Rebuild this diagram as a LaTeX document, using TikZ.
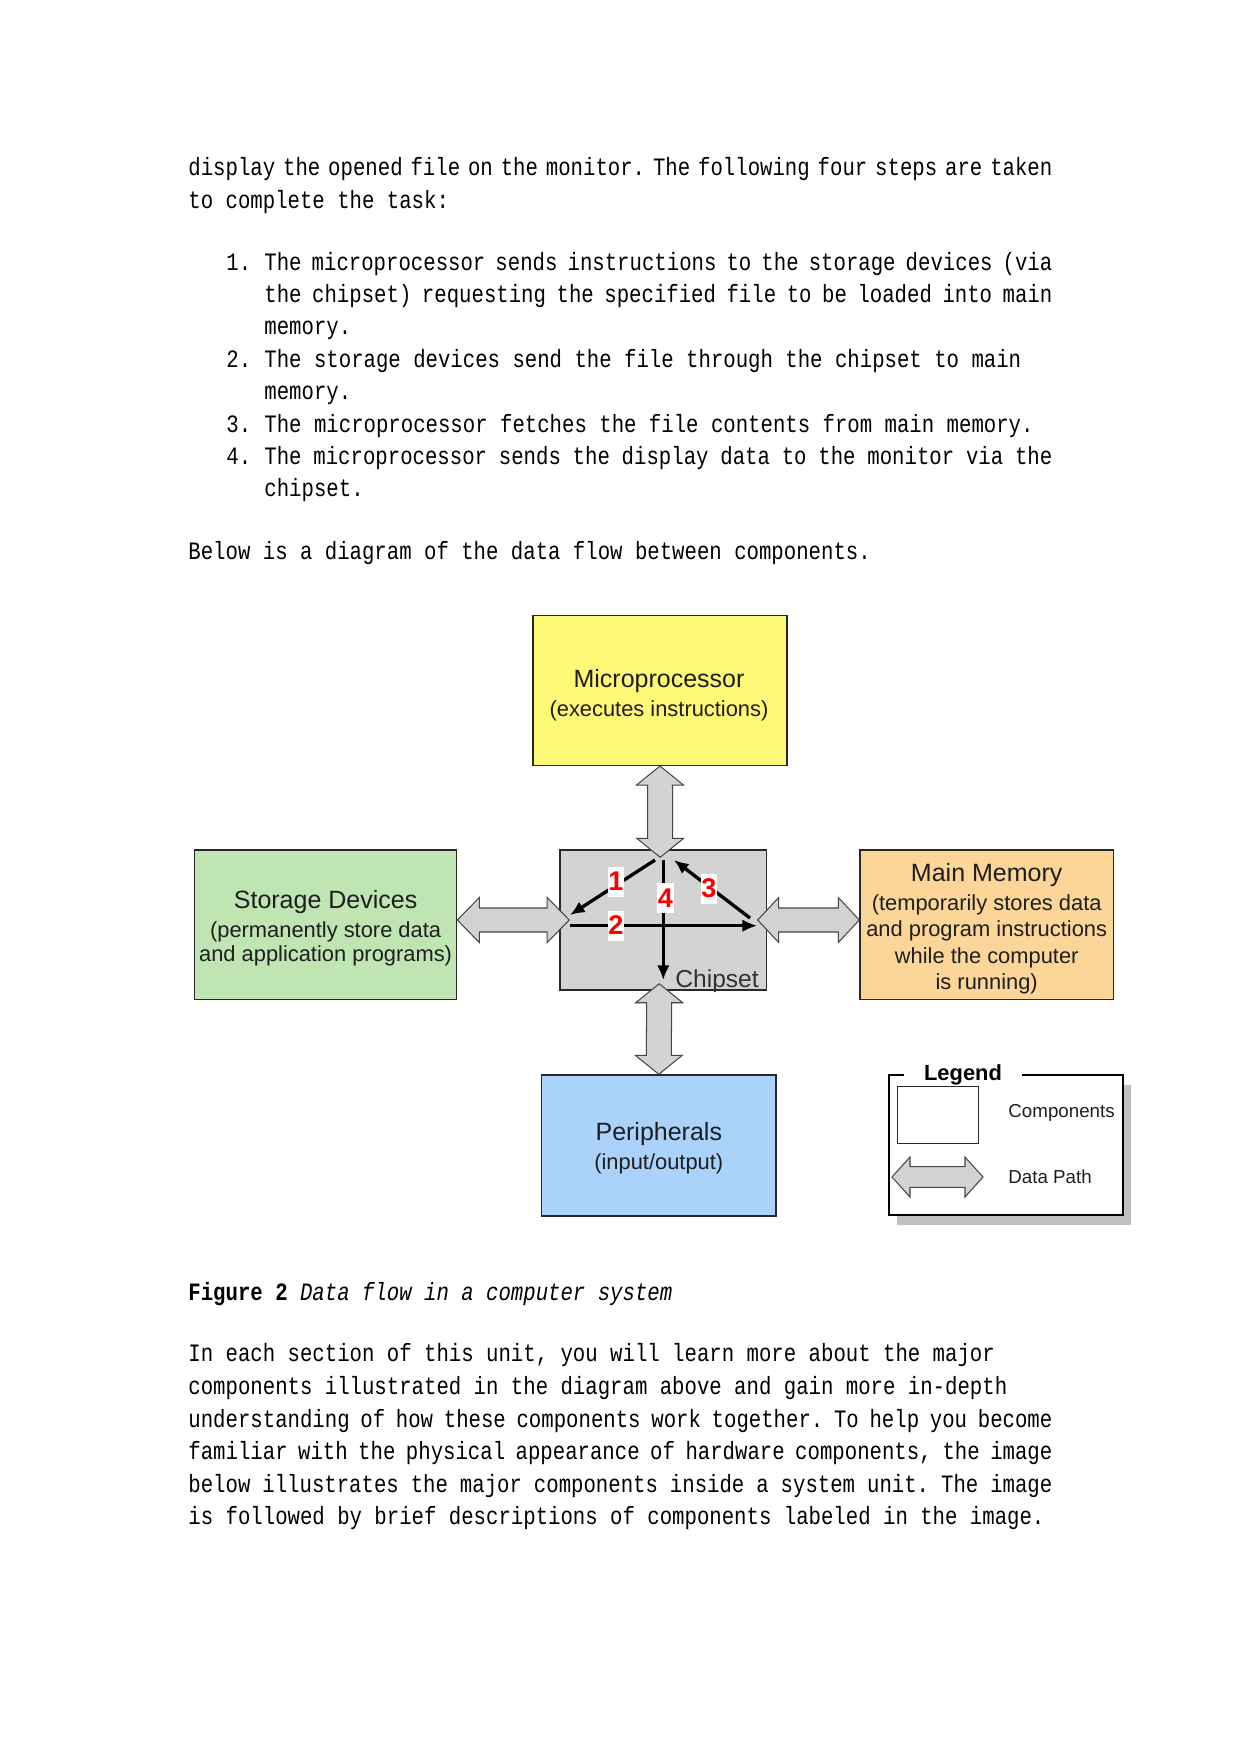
\documentclass[tikz,border=0pt]{standalone}
\usepackage{fontspec}
\usetikzlibrary{calc,arrows.meta,shadows}
\newfontfamily\bodyfont{Liberation Mono}[FakeStretch=0.827]
\newfontfamily\diagfont{Liberation Sans}
\newdimen\pxu \pxu=0.48pt
\definecolor{mpfill}{RGB}{255,249,120}
\definecolor{sdfill}{RGB}{190,229,178}
\definecolor{mmfill}{RGB}{252,214,153}
\definecolor{ppfill}{RGB}{170,210,250}
\definecolor{arrowgray}{RGB}{211,211,211}
\definecolor{arrowline}{RGB}{70,70,70}
\definecolor{boxline}{RGB}{40,40,40}
\definecolor{boxtext}{RGB}{30,30,30}
\definecolor{chiptext}{RGB}{50,50,50}
\definecolor{shadowgray}{RGB}{192,192,192}
\newcommand\jline[2]{\hbox to #1\pxu{\spaceskip=5.95pt plus 1fil minus 5pt\xspaceskip=\spaceskip #2}}
\newcommand\ttl[1]{{\fontsize{12}{13}\selectfont #1}}
% horizontal double block arrow: left tip, right tip, head length, head half width, shaft half width
\newcommand\hblock[5]{%
  \draw[blockarrow] (#1) -- ++(#3,-#4) -- ++(0,#4-#5) -- ($(#2)+(-#3,-#5)$) -- ++(0,#5-#4) -- (#2)
    -- ++(-#3,#4) -- ++(0,#5-#4) -- ($(#1)+(#3,#5)$) -- ++(0,#4-#5) -- cycle;}
% vertical double block arrow: top tip, bottom tip, head length, head half width, shaft half width
\newcommand\vblock[5]{%
  \draw[blockarrow] (#1) -- ++(#4,#3) -- ++(#5-#4,0) -- ($(#2)+(#5,-#3)$) -- ++(#4-#5,0) -- (#2)
    -- ++(-#4,-#3) -- ++(#4-#5,0) -- ($(#1)+(-#5,#3)$) -- ++(#5-#4,0) -- cycle;}
\begin{document}
\begin{tikzpicture}[x=0.48pt, y=-0.48pt,
  box/.style={draw=boxline, line width=0.7pt, inner sep=0pt},
  boxlabel/.style={align=center, text=boxtext, inner sep=0pt},
  blockarrow/.style={fill=arrowgray, draw=arrowline, line width=0.5pt, line join=miter},
  flow/.style={line width=1.6pt, -{Latex[length=7pt,width=6pt]}},
  num/.style={fill=white, text=red, font=\diagfont\bfseries\fontsize{13}{13}\selectfont,
    inner xsep=0.3pt, inner ysep=0pt, minimum height=30\pxu},
  body/.style={font=\bodyfont\fontsize{12}{14}\selectfont, inner sep=0pt, anchor=base west},
  small/.style={font=\diagfont\fontsize{9}{10}\selectfont, inner sep=0pt, anchor=base west, text=boxtext}
]
\useasboundingbox (0,0) rectangle (1241,1754);
\fill[white] (0,0) rectangle (1241,1754);

% ---------- body text above ----------
\node[body] (p1) at (188,175) {\jline{864}{display the opened file on the monitor. The following four steps are taken}};
\node[body] (p2) at (188,208.5) {to complete the task:};
\node[body] (n1) at (226,270) {1.};
\node[body] (i1a) at (264,270) {\jline{788}{The microprocessor sends instructions to the storage devices (via}};
\node[body] (i1b) at (264,302.4) {\jline{788}{the chipset) requesting the specified file to be loaded into main}};
\node[body] (i1c) at (264,334.8) {memory.};
\node[body] (n2) at (226,367.2) {2.};
\node[body] (i2a) at (264,367.2) {The storage devices send the file through the chipset to main};
\node[body] (i2b) at (264,399.6) {memory.};
\node[body] (n3) at (226,432) {3.};
\node[body] (i3a) at (264,432) {The microprocessor fetches the file contents from main memory.};
\node[body] (n4) at (226,464.4) {4.};
\node[body] (i4a) at (264,464.4) {\jline{788}{The microprocessor sends the display data to the monitor via the}};
\node[body] (i4b) at (264,496.8) {chipset.};
\node[body] (p3) at (188,559.5) {Below is a diagram of the data flow between components.};

% ---------- diagram boxes ----------
\node[box, fill=mpfill, minimum width=254\pxu, minimum height=150\pxu] (mp) at (660,690.3) {};
\node[box, fill=arrowgray, minimum width=206.5\pxu, minimum height=140\pxu] (cs) at (663.2,920) {};
\node[box, fill=sdfill, minimum width=262\pxu, minimum height=149.3\pxu] (sd) at (325.6,924.7) {};
\node[box, fill=mmfill, minimum width=253.4\pxu, minimum height=149.3\pxu] (mm) at (986.7,924.7) {};
\node[box, fill=ppfill, minimum width=234.3\pxu, minimum height=141\pxu] (pp) at (658.8,1145.5) {};

\node[boxlabel, font=\diagfont\fontsize{10.5}{12}\selectfont] (mpt) at ($(mp.center)+(-1,4.5)$)
  {\ttl{Microprocessor}\\[1.9pt](executes instructions)};
\node[boxlabel, font=\diagfont\fontsize{10.5}{11.8}\selectfont] (sdt) at ($(sd.center)+(0,3.6)$)
  {\ttl{Storage Devices}\\[2.1pt](permanently store data\\and application programs)};
\node[boxlabel, font=\diagfont\fontsize{10.5}{12.7}\selectfont] (mmt) at ($(mm.center)+(0,4)$)
  {\ttl{Main Memory}\\[1.2pt](temporarily stores data\\and program instructions\\while the computer\\is running)};
\node[boxlabel, font=\diagfont\fontsize{10.5}{12}\selectfont] (ppt) at ($(pp.center)+(0,3)$)
  {\ttl{Peripherals}\\[1.9pt](input/output)};

% ---------- block arrows (data paths) ----------
\coordinate (vt1) at (mp.south);
\coordinate (vt2) at ($(cs.north)+(-3,8)$);
\coordinate (vb1) at ($(cs.south)+(-4,-7)$);
\coordinate (vb2) at (pp.north);
\coordinate (hl1) at ($(sd.east)+(0,-4.7)$);
\coordinate (hl2) at ($(cs.west)+(10,0)$);
\coordinate (hr1) at ($(cs.east)+(-9.5,0)$);
\coordinate (hr2) at ($(mm.west)+(0,-4.7)$);
\vblock{vt1}{vt2}{19}{23.5}{12.5}
\vblock{vb1}{vb2}{19}{23.5}{12.5}
\hblock{hl1}{hl2}{22}{22.5}{12}
\hblock{hr1}{hr2}{21}{22.5}{12}

% ---------- flows inside the chipset ----------
\coordinate (f1s) at ($(cs.center)+(-8.2,-60)$);
\coordinate (f1e) at ($(cs.center)+(-93.2,-5)$);
\coordinate (f2s) at ($(cs.center)+(-93.2,5.7)$);
\coordinate (f2e) at ($(cs.center)+(93.8,5.7)$);
\coordinate (f3s) at ($(cs.center)+(86.8,-2)$);
\coordinate (f3e) at ($(cs.center)+(10.8,-60)$);
\coordinate (f4s) at ($(cs.center)+(0.1,-60)$);
\coordinate (f4e) at ($(cs.center)+(0.1,60)$);
\draw[flow] (f1s) -- (f1e);
\draw[flow] (f2s) -- (f2e);
\draw[flow] (f3s) -- (f3e);
\draw[flow] (f4s) -- (f4e);
\node[num] (l1) at ($(cs.center)+(-47.4,-38.5)$) {1};
\node[num] (l2) at ($(cs.center)+(-47.4,5.5)$) {2};
\node[num] (l3) at ($(cs.center)+(45.8,-31.5)$) {3};
\node[num] (l4) at ($(cs.center)+(2.3,-22)$) {4};
\node[anchor=base east, inner sep=0pt, text=chiptext, font=\diagfont\fontsize{11.8}{12}\selectfont]
  (csl) at ($(cs.south east)+(-8,-3)$) {Chipset};

% ---------- legend ----------
\node[draw=black, line width=1.4pt, fill=white, minimum width=234\pxu, minimum height=140\pxu,
  inner sep=0pt, drop shadow={opacity=1, fill=shadowgray, shadow xshift=3.84pt, shadow yshift=-4.8pt}]
  (lg) at (1006,1145) {};
\node[anchor=base, fill=white, inner xsep=20\pxu, inner ysep=1pt,
  font=\diagfont\bfseries\fontsize{10.5}{11}\selectfont] (lgt) at (963,1080) {Legend};
\node[draw=boxline, line width=0.5pt, fill=white, minimum width=81.4\pxu, minimum height=56.6\pxu,
  inner sep=0pt] (lgc) at (938,1115) {};
\coordinate (dpl) at (892,1177);
\coordinate (dpr) at (983,1177);
\hblock{dpl}{dpr}{18}{20}{10.3}
\node[small] (lgct) at (1008,1117.5) {Components};
\node[small] (lgdt) at (1008,1183) {Data Path};

% ---------- caption and text below ----------
\node[body] (cap) at (188,1300.7) {{\bfseries Figure 2} {\itshape Data flow in a computer system}};
\node[body] (q1) at (188,1361.5) {In each section of this unit, you will learn more about the major};
\node[body] (q2) at (188,1394.5) {components illustrated in the diagram above and gain more in-depth};
\node[body] (q3) at (188,1427) {\jline{864}{understanding of how these components work together. To help you become}};
\node[body] (q4) at (188,1459.5) {\jline{864}{familiar with the physical appearance of hardware components, the image}};
\node[body] (q5) at (188,1492) {\jline{864}{below illustrates the major components inside a system unit. The image}};
\node[body] (q6) at (188,1524.5) {is followed by brief descriptions of components labeled in the image.};
\end{tikzpicture}
\end{document}
